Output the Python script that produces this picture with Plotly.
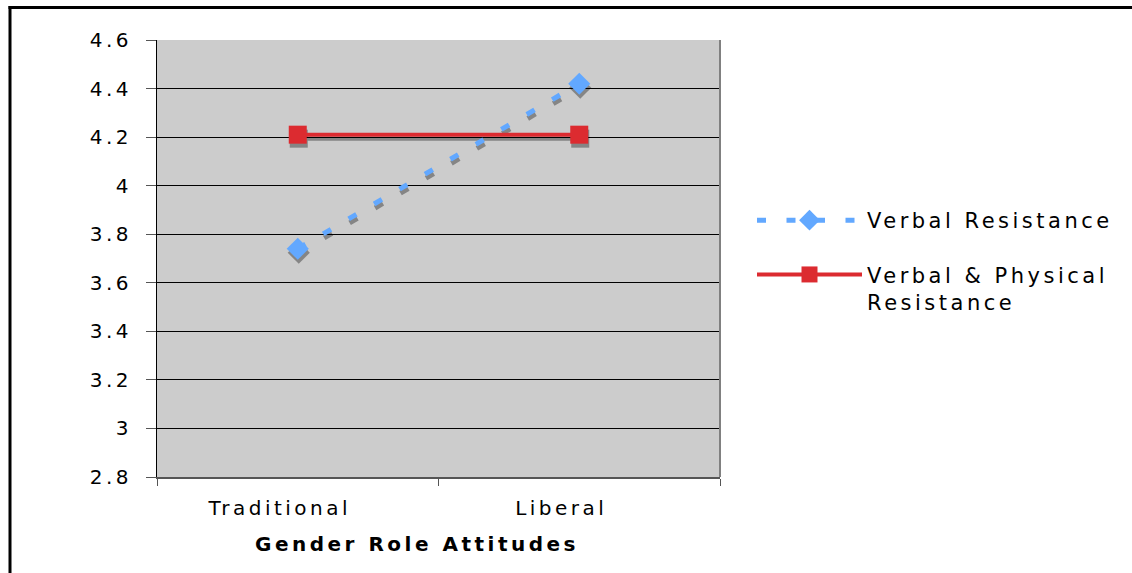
import plotly.graph_objects as go

# ---- data -------------------------------------------------------------
categories = ["Traditional", "Liberal"]
verbal_resistance = [3.74, 4.42]
verbal_physical_resistance = [4.21, 4.21]
y_tick_values = [2.8, 3.0, 3.2, 3.4, 3.6, 3.8, 4.0, 4.2, 4.4, 4.6]
y_tick_labels = ["2.8", "3", "3.2", "3.4", "3.6", "3.8", "4", "4.2", "4.4", "4.6"]
x_title = "Gender Role Attitudes"
series_names = ["Verbal Resistance", "Verbal &amp; Physical<br>Resistance"]

# ---- geometry (pixels) ------------------------------------------------
W, H = 1132, 573
L, T = 157, 40          # top-left corner of the plot box
PW, PH = 563, 437       # plot box size
SDX, SDY = 1, 4         # drop-shadow offset
paper_w = PW + SDX
paper_h = PH + SDY
R = W - L - paper_w
B = H - T - paper_h

main_x = [0, PW / paper_w]
main_y = [SDY / paper_h, 1]
shad_x = [SDX / paper_w, 1]
shad_y = [0, PH / paper_h]


def px(x):
    return (x - L) / paper_w


def py(y):
    return 1 - (y - T) / paper_h


FONT = "DejaVu Sans"
BLUE = "#62A8FF"
RED = "#DC2B30"
SHADOW = "#858585"
BLUE_DASH = "9px,20.5px"

fig = go.Figure()

# shadows (drawn first, on a slightly offset hidden subplot)
fig.add_trace(go.Scatter(
    x=categories, y=verbal_resistance, xaxis="x", yaxis="y",
    mode="lines+markers", showlegend=False, hoverinfo="skip",
    line=dict(color=SHADOW, width=5, dash=BLUE_DASH),
    marker=dict(symbol="diamond", size=17, color=SHADOW),
))
fig.add_trace(go.Scatter(
    x=categories, y=verbal_physical_resistance, xaxis="x", yaxis="y",
    mode="lines+markers", showlegend=False, hoverinfo="skip",
    line=dict(color=SHADOW, width=4),
    marker=dict(symbol="square", size=18, color=SHADOW),
))

# main series
fig.add_trace(go.Scatter(
    x=categories, y=verbal_resistance, xaxis="x2", yaxis="y2",
    name=series_names[0], legendgroup="a",
    mode="lines+markers",
    line=dict(color=BLUE, width=5, dash=BLUE_DASH),
    marker=dict(symbol="diamond", size=17, color=BLUE),
))
fig.add_trace(go.Scatter(
    x=categories, y=verbal_physical_resistance, xaxis="x2", yaxis="y2",
    name=series_names[1], legendgroup="b",
    mode="lines+markers",
    line=dict(color=RED, width=4),
    marker=dict(symbol="square", size=18, color=RED),
))

tick_font = dict(size=20, color="black")

shapes = [
    # plot area fill
    dict(type="rect", xref="paper", yref="paper",
         x0=main_x[0], x1=main_x[1], y0=main_y[0], y1=main_y[1],
         fillcolor="#CCCCCC", line=dict(width=0), layer="below"),
    # right edge of plot box
    dict(type="line", xref="paper", yref="paper",
         x0=main_x[1], x1=main_x[1], y0=main_y[0], y1=main_y[1],
         line=dict(color="#808080", width=2), layer="above"),
    # outer chart frame
    dict(type="line", xref="paper", yref="paper",
         x0=px(8.5), x1=px(1140), y0=py(7.5), y1=py(7.5),
         line=dict(color="black", width=3)),
    dict(type="line", xref="paper", yref="paper",
         x0=px(10), x1=px(10), y0=py(6), y1=py(590),
         line=dict(color="black", width=3)),
]

fig.update_layout(
    width=W, height=H, autosize=False,
    margin=dict(l=L, r=R, t=T, b=B, pad=0),
    paper_bgcolor="white",
    plot_bgcolor="rgba(0,0,0,0)",
    font=dict(family=FONT, color="black"),
    showlegend=True,
    xaxis=dict(domain=shad_x, anchor="y", type="category",
               categoryarray=categories, range=[-0.5, 1.5], visible=False),
    yaxis=dict(domain=shad_y, anchor="x", range=[2.8, 4.6], visible=False),
    xaxis2=dict(domain=main_x, anchor="y2", type="category",
                categoryarray=categories, range=[-0.5, 1.5],
                tickson="boundaries", ticks="outside", ticklen=7,
                tickcolor="#555555", tickwidth=1,
                showline=True, linecolor="#555555", linewidth=2,
                showgrid=False, zeroline=False,
                tickfont=tick_font, ticklabelstandoff=12,
                ticklabelshift=-18),
    yaxis2=dict(domain=main_y, anchor="x2", range=[2.8, 4.6],
                tickmode="array", tickvals=y_tick_values, ticktext=y_tick_labels,
                ticks="outside", ticklen=10, tickcolor="#555555", tickwidth=1,
                showline=True, linecolor="black", linewidth=1,
                showgrid=True, gridcolor="black", gridwidth=1,
                zeroline=False, tickfont=tick_font, ticklabelstandoff=10),
    legend=dict(x=px(752), y=py(200), xanchor="left", yanchor="top",
                bgcolor="rgba(0,0,0,0)", borderwidth=0,
                font=dict(size=21, color="black"),
                itemwidth=105, tracegroupgap=24, valign="top",
                itemclick=False, itemdoubleclick=False),
    shapes=shapes,
    annotations=[dict(
        text="<b>" + x_title + "</b>", xref="paper", yref="paper",
        x=px(417), y=py(544), xanchor="center", yanchor="middle",
        showarrow=False, font=dict(size=20, color="black"),
    )],
)

# wide letter spacing for all chart text; the font family is restated
# afterwards so every text box is measured again with the spacing applied
spacing_js = """
var st = document.createElement('style');
st.textContent = '.x2tick text, .y2tick text, .legendtext, .annotation-text {letter-spacing: 3.5px;}';
document.head.appendChild(st);
var gd = document.getElementById('{plot_id}');
Plotly.relayout(gd, {'font.family': 'DejaVu Sans, sans-serif'});
"""

fig.write_html("out.html", post_script=spacing_js)
